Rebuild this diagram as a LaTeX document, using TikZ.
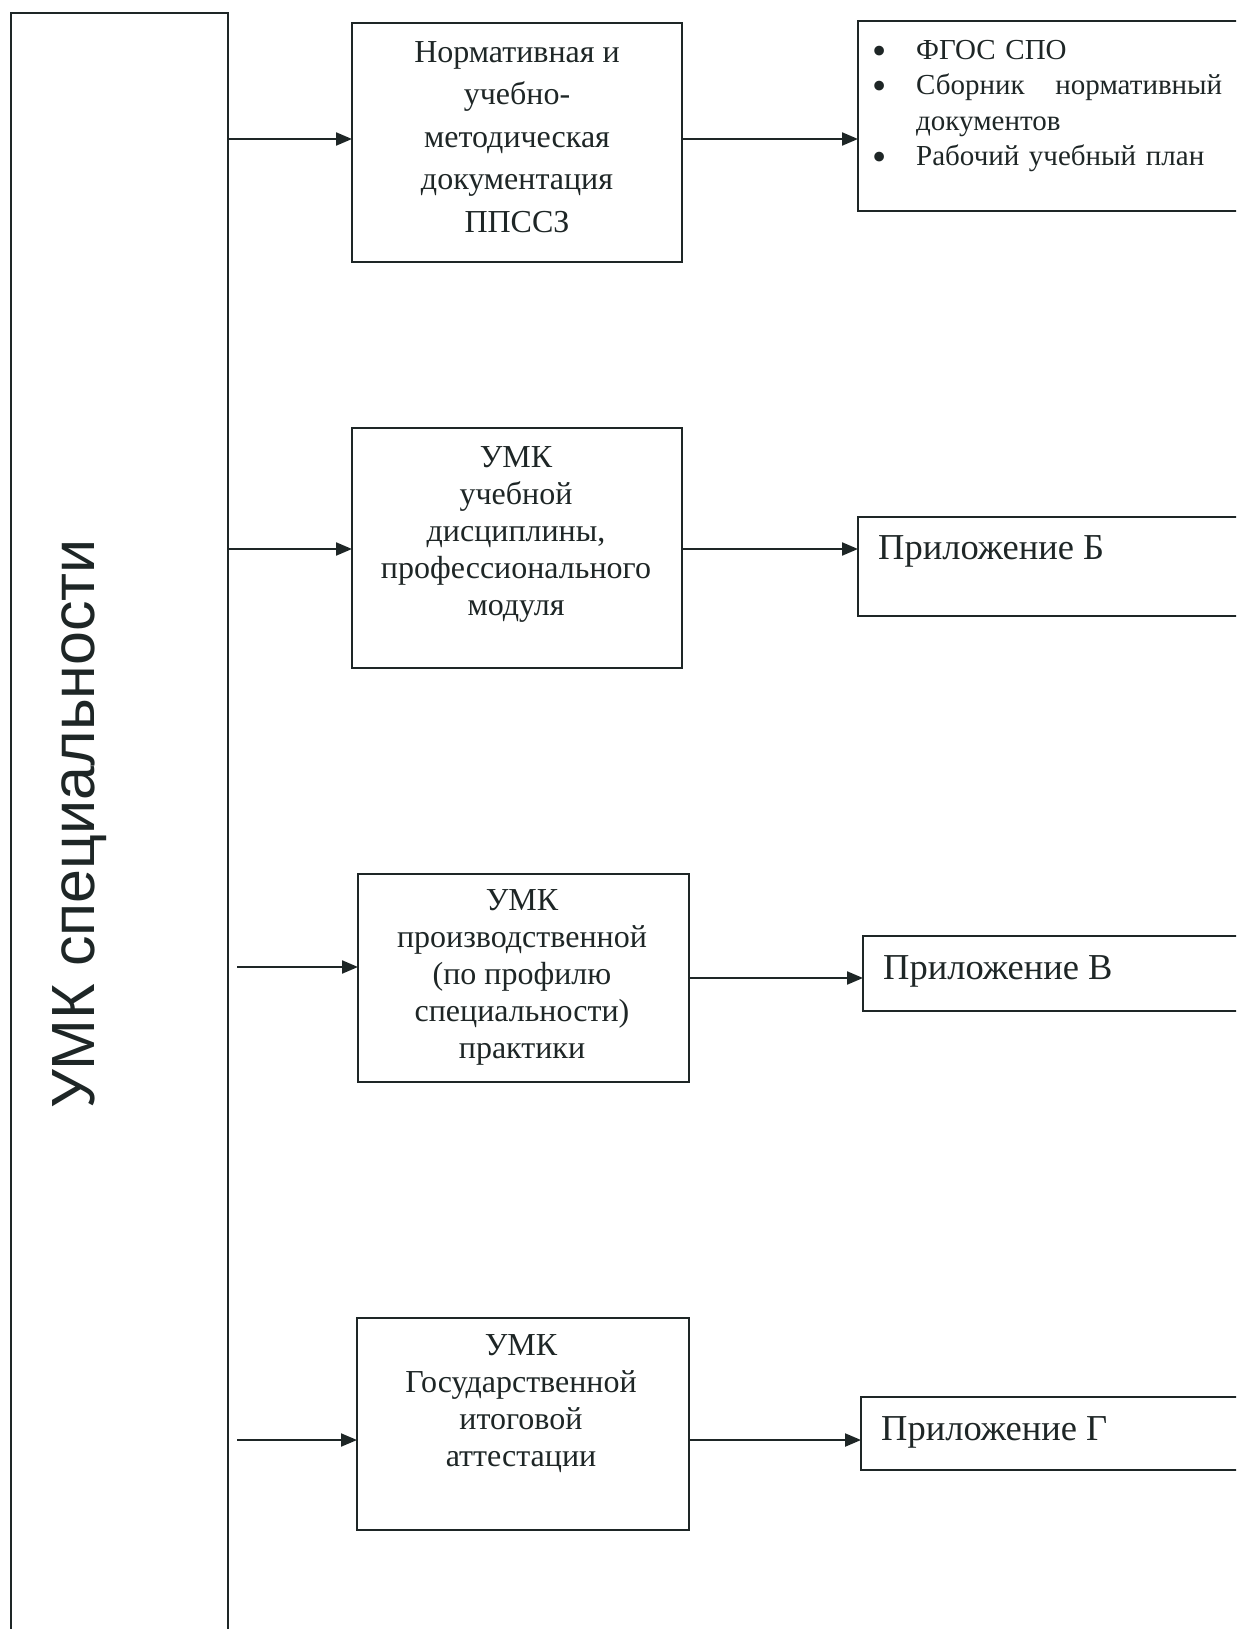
\documentclass[tikz,border=0pt]{standalone}
\usepackage{fontspec}
\setmainfont{Liberation Serif}
\newfontfamily\sansf{Liberation Sans}
\usetikzlibrary{arrows.meta}
\definecolor{ink}{RGB}{30,38,38}
\newcommand{\bul}{\makebox[44pt][l]{\smash{\raisebox{-5pt}{\scalebox{1.4}{•}}}}}
\begin{document}
\begin{tikzpicture}[x=1pt,y=-1pt,
  box/.style={draw=ink, line width=2.1pt, inner sep=0pt, outer sep=0pt},
  arr/.style={draw=ink, line width=2.1pt, -{Triangle[length=16pt,width=13pt]}},
  midtxt/.style={text=ink, align=center, inner sep=0pt, font=\fontsize{32}{37}\selectfont},
  apptxt/.style={text=ink, anchor=west, inner sep=0pt, font=\fontsize{36.5}{40}\selectfont}
]
\useasboundingbox (0,0) rectangle (1236,1629);
\clip (0,0) rectangle (1236,1629);
\fill[white] (0,0) rectangle (1236,1629);

% big box
\node[box, minimum width=217pt, minimum height=1687pt] (umk) at (119.5,856.5) {};
\node[text=ink, rotate=90, inner sep=0pt, font=\sansf\fontsize{61}{66}\selectfont] (umkt) at (80,824) {УМК специальности};

% middle boxes
\node[box, minimum width=330pt, minimum height=239pt] (b1) at (517,142.5) {};
\node[box, minimum width=330pt, minimum height=240pt] (b2) at (517,548) {};
\node[box, minimum width=331pt, minimum height=208pt] (b3) at (523.5,978) {};
\node[box, minimum width=332pt, minimum height=212pt] (b4) at (523,1424) {};

\node[midtxt, font=\fontsize{32}{42.5}\selectfont] (t1) at (517,137) {Нормативная и\\учебно-\\методическая\\документация\\ППССЗ};
\node[midtxt] (t2) at (516,534) {УМК\\учебной\\дисциплины,\\профессионального\\модуля};
\node[midtxt] (t3) at (522,977) {УМК\\производственной\\(по профилю\\специальности)\\практики};
\node[midtxt] (t4) at (521,1404) {УМК\\Государственной\\итоговой\\аттестации};

% right boxes
\node[box, minimum width=402pt, minimum height=190pt] (r1) at (1059,116) {};
\node[box, minimum width=402pt, minimum height=99pt] (r2) at (1059,566.5) {};
\node[box, minimum width=397pt, minimum height=75pt] (r3) at (1061.5,973.5) {};
\node[box, minimum width=399pt, minimum height=73pt] (r4) at (1060.5,1433.5) {};

\node[text=ink, anchor=north west, inner sep=0pt, text width=360pt, align=left,
  font=\fontsize{29}{35.5}\selectfont] (tr1) at (872,40)
  {\bul ФГОС СПО\\
   \bul\hbox to 306pt{Сборник\hfill нормативный}\\
   \hspace*{44pt}документов\\
   \bul Рабочий учебный план};
\node[apptxt] (tr2) at (878,551) {Приложение Б};
\node[apptxt] (tr3) at (883,971) {Приложение В};
\node[apptxt] (tr4) at (881,1432) {Приложение Г};

% connectors
\coordinate (s1) at (umk.east |- 0,139);
\coordinate (s2) at (umk.east |- 0,549);
\coordinate (s3) at (237,967);
\coordinate (o3) at (b3.east |- 0,978);
\coordinate (s4) at (237,1440);

\draw[arr] (s1) -- (s1 -| b1.west);
\draw[arr] (s1 -| b1.east) -- (s1 -| r1.west);
\draw[arr] (s2) -- (s2 -| b2.west);
\draw[arr] (s2 -| b2.east) -- (s2 -| r2.west);
\draw[arr] (s3) -- (s3 -| b3.west);
\draw[arr] (o3) -- (o3 -| r3.west);
\draw[arr] (s4) -- (s4 -| b4.west);
\draw[arr] (s4 -| b4.east) -- (s4 -| r4.west);
\end{tikzpicture}
\end{document}
